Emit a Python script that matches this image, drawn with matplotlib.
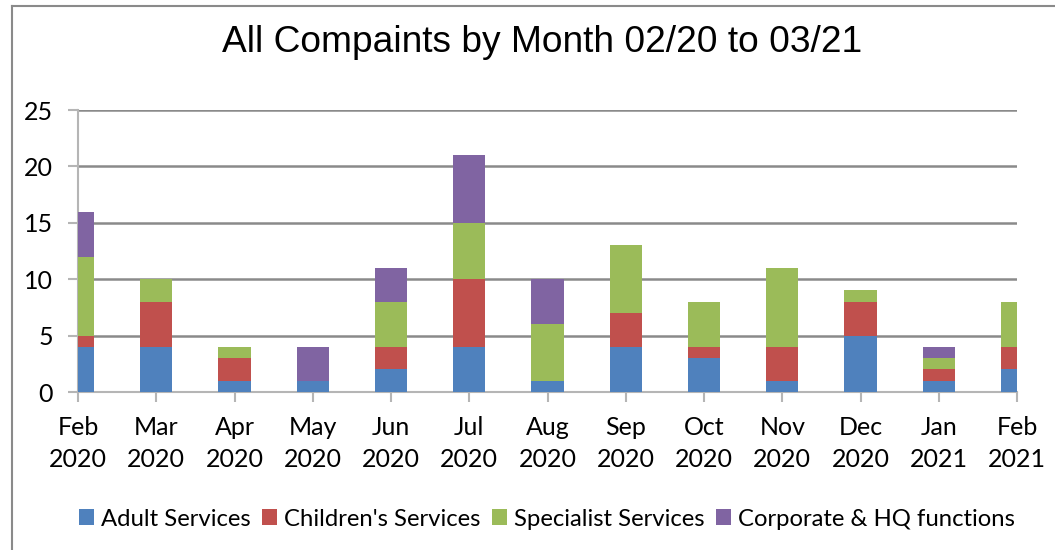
import numpy as np
import matplotlib
matplotlib.use("Agg")
import matplotlib.pyplot as plt
from matplotlib.lines import Line2D

# values, Feb 2020 .. Feb 2021
months = ["Feb\n2020", "Mar\n2020", "Apr\n2020", "May\n2020", "Jun\n2020", "Jul\n2020",
          "Aug\n2020", "Sep\n2020", "Oct\n2020", "Nov\n2020", "Dec\n2020", "Jan\n2021", "Feb\n2021"]
adult = [4, 4, 1, 1, 2, 4, 1, 4, 3, 1, 5, 1, 2]
children = [1, 4, 2, 0, 2, 6, 0, 3, 1, 3, 3, 1, 2]
specialist = [7, 2, 1, 0, 4, 5, 5, 6, 4, 7, 1, 1, 4]
corporate = [4, 0, 0, 3, 3, 6, 4, 0, 0, 0, 0, 1, 0]

series = [("Adult Services", adult, "#4F81BD"),
          ("Children's Services", children, "#C0504D"),
          ("Specialist Services", specialist, "#9BBB59"),
          ("Corporate & HQ functions", corporate, "#8064A2")]

W, H = 1055, 550
fig = plt.figure(figsize=(W / 100, H / 100), dpi=100)
ax = fig.add_axes([78 / W, 1 - 392 / H, (1017 - 78) / W, (392 - 110) / H])

x = np.arange(len(months))
bottom = np.zeros(len(months))
for name, vals, col in series:
    ax.bar(x, vals, width=0.41, bottom=bottom, color=col, label=name, zorder=3)
    bottom += np.array(vals)

ax.set_xlim(0, len(months) - 1)
ax.set_ylim(0, 25)
ax.set_yticks(range(0, 26, 5))
ax.set_xticks(x)
ax.set_xticklabels(months, linespacing=1.5)

tick_font = "Lato"
for lab in ax.get_xticklabels() + ax.get_yticklabels():
    lab.set_fontfamily(tick_font)
    lab.set_fontsize(18)

ax.yaxis.grid(True, color="#8a8a8a", linewidth=1.8, zorder=0)
ax.set_axisbelow(True)
for s in ["top", "right"]:
    ax.spines[s].set_visible(False)
for s in ["left", "bottom"]:
    ax.spines[s].set_color("#b5b5b5")
    ax.spines[s].set_linewidth(1.5)
ax.tick_params(axis="y", length=7, width=1.5, color="#b5b5b5", pad=11)
ax.tick_params(axis="x", length=7, width=1.5, color="#b5b5b5", pad=10)

fig.text(542 / W, 1 - 42 / H, "All Compaints by Month 02/20 to 03/21",
         ha="center", va="center", fontsize=26.7, family="Liberation Sans")

fig.legend(loc="center", bbox_to_anchor=(547 / W, 1 - 519 / H), ncol=4, frameon=False,
           prop={"family": tick_font, "size": 17.2}, handlelength=0.6, handleheight=0.6,
           handletextpad=0.3, columnspacing=0.5, borderpad=0)

# outer chart frame (left and top edges visible)
fig.add_artist(Line2D([12 / W, 12 / W], [0, 1 - 6 / H], transform=fig.transFigure,
                      color="#8a8a8a", linewidth=1.5))
fig.add_artist(Line2D([12 / W, 1], [1 - 6 / H, 1 - 6 / H], transform=fig.transFigure,
                      color="#8a8a8a", linewidth=1.5))

fig.savefig("out.png", dpi=100)
